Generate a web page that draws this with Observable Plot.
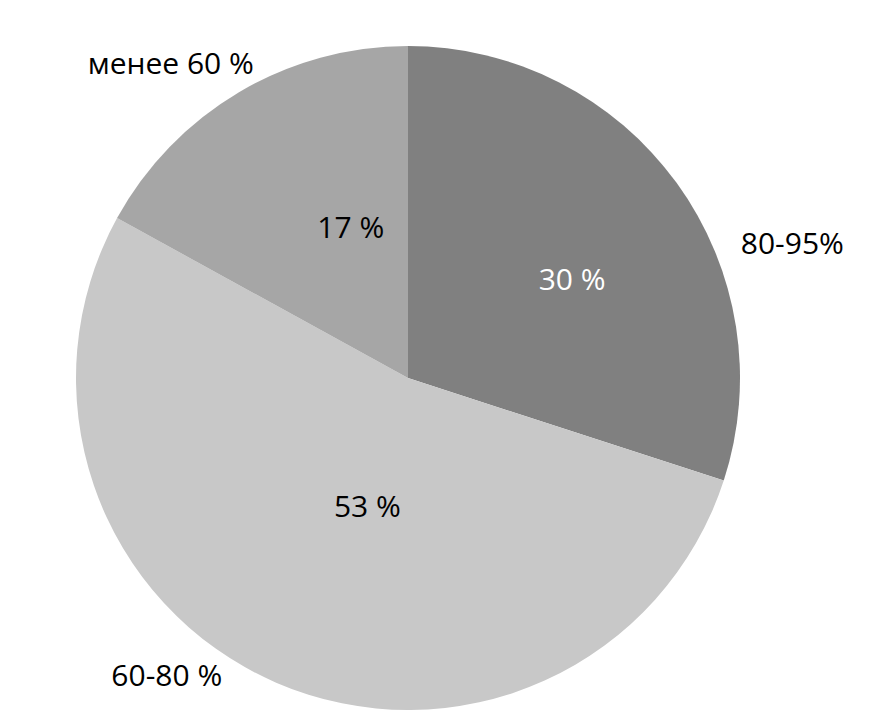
<!DOCTYPE html>
<html><head><meta charset="utf-8">
<script src="https://cdn.jsdelivr.net/npm/d3@7"></script>
<script src="https://cdn.jsdelivr.net/npm/@observablehq/plot@0.6"></script>
<style>body{margin:0;background:#fff}</style>
</head><body><div id="chart"></div>
<script>
const categories = ["80-95%", "60-80 %", "менее 60 %"];
const values = [30, 53, 17];
const valueLabels = ["30 %", "53 %", "17 %"];
const colors = ["#808080", "#c8c8c8", "#a6a6a6"];
const innerTextColors = ["#ffffff", "#000000", "#000000"];
// label placement (angle in degrees clockwise from top, radius as fraction of pie radius)
const innerLabelAngle = [59, 197.6, 339];
const innerLabelRadius = [0.575, 0.41, 0.485];
const outerLabelAngle = [70.7, 219, 323];
const outerLabelRadius = [1.225, 1.157, 1.19];

const pie = d3.pie().sort(null).value(d => d)(values);
const slices = categories.map((c, i) => ({
  category: c, value: values[i], start: pie[i].startAngle, end: pie[i].endAngle,
  color: colors[i]
}));
const toXY = (deg, r) => {
  const a = deg * Math.PI / 180;
  return [r * Math.sin(a), r * Math.cos(a)];
};
const inner = categories.map((c, i) => {
  const [x, y] = toXY(innerLabelAngle[i], innerLabelRadius[i]);
  return {x, y, text: valueLabels[i], fill: innerTextColors[i]};
});
const outer = categories.map((c, i) => {
  const [x, y] = toXY(outerLabelAngle[i], outerLabelRadius[i]);
  return {x, y, text: c};
});

function pieMark(index, scales, values, dimensions, context) {
  const cx = scales.x(0), cy = scales.y(0);
  const r = scales.x(1) - scales.x(0);
  const arc = d3.arc().innerRadius(0).outerRadius(r);
  const g = d3.create("svg:g").attr("transform", `translate(${cx},${cy})`);
  g.selectAll("path").data(slices).join("path")
    .attr("d", d => arc({startAngle: d.start, endAngle: d.end}))
    .attr("fill", d => d.color);
  return g.node();
}

const chart = Plot.plot({
  width: 869, height: 726,
  marginLeft: 76, marginRight: 129, marginTop: 47, marginBottom: 17,
  x: {domain: [-1, 1], axis: null},
  y: {domain: [-1, 1], axis: null},
  style: {fontFamily: "'Open Sans', sans-serif", background: "#fff"},
  marks: [
    pieMark,
    Plot.text(inner, {x: "x", y: "y", text: "text", fill: "fill", fontSize: 30}),
    Plot.text(outer, {x: "x", y: "y", text: "text", fill: "#000", fontSize: 30})
  ]
});
document.getElementById("chart").appendChild(chart);
</script></body></html>
